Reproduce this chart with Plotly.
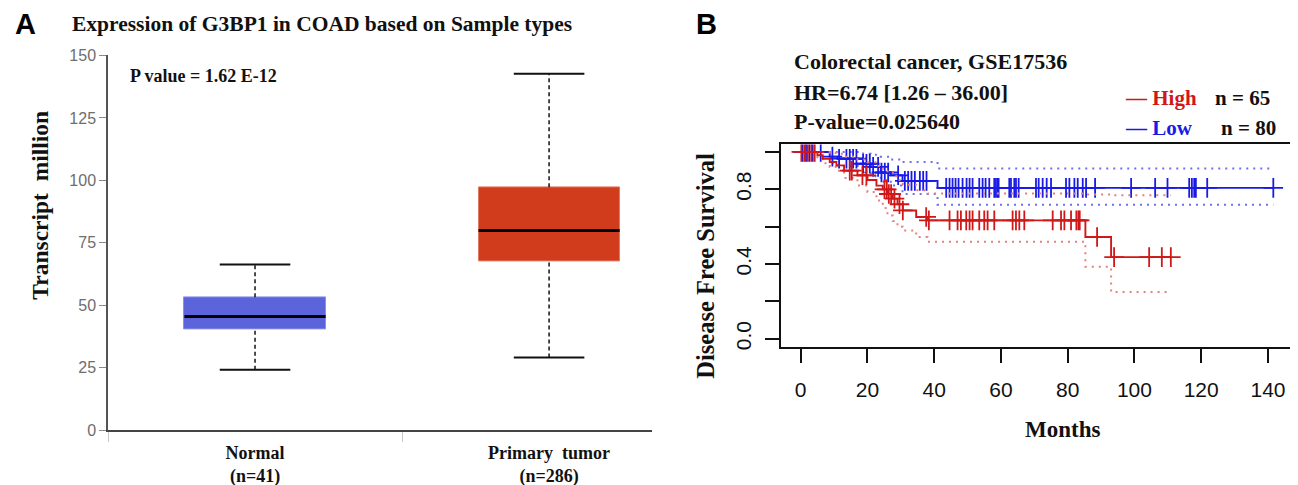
import plotly.graph_objects as go

W, H = 1298, 485

# ---------------- Panel A data ----------------
groups = ["Normal", "Primary tumor"]
group_labels = ["<b>Normal</b><br><b>(n=41)</b>", "<b>Primary  tumor</b><br><b>(n=286)</b>"]
lower_whisker = [24.3, 29.2]
q1 = [40.4, 67.6]
median = [45.6, 80.0]
q3 = [53.3, 97.3]
upper_whisker = [66.4, 142.7]
box_colors = ["#5C64DC", "#D13D1C"]
box_edge = ["#8A90E6", "#E07A62"]
a_ticks = [0, 25, 50, 75, 100, 125, 150]

# ---------------- Panel B data ----------------
high_t = [0, 5, 6.6, 8.7, 10.7, 13, 17, 20, 22.7, 24.6, 26, 27.6, 29, 30.6, 34.6, 38, 85.3, 93]
high_s = [1.0, 0.982, 0.964, 0.946, 0.928, 0.90, 0.875, 0.85, 0.82, 0.80, 0.775, 0.75, 0.72, 0.687, 0.652, 0.634, 0.545, 0.437]
high_up = [1.0, 1.0, 1.0, 0.995, 0.99, 0.975, 0.96, 0.945, 0.925, 0.91, 0.89, 0.87, 0.85, 0.825, 0.795, 0.777, 0.772, 0.768]
high_lo = [1.0, 0.96, 0.94, 0.92, 0.90, 0.86, 0.82, 0.786, 0.74, 0.70, 0.66, 0.63, 0.60, 0.58, 0.545, 0.52, 0.385, 0.25]
high_end = 110.9
high_cens = [0.2, 1.2, 2.1, 3.2, 4.2, 14.7, 15.3, 18.5, 19.7, 25.1, 25.8, 26.4, 27.1, 28.1,
             29.6, 30.6, 37.6, 38.4, 44.6, 47, 48, 49.6, 50.6, 51.5, 53.5, 55, 56, 58, 63.5,
             64.5, 65.5, 67, 75.5, 78, 79, 81, 82.6, 83.2, 83.6, 88.8, 93.9, 104.4, 108.2, 110.9]

low_t = [0, 8.7, 11, 18.7, 21, 24, 27, 30.5, 41]
low_s = [1.0, 0.975, 0.964, 0.937, 0.92, 0.89, 0.875, 0.845, 0.808]
low_up = [1.0, 1.0, 1.0, 0.99, 0.985, 0.975, 0.96, 0.946, 0.912]
low_lo = [1.0, 0.94, 0.925, 0.89, 0.87, 0.84, 0.82, 0.775, 0.718]
low_end = 141.6
low_cens = [0.6, 1.6, 2.6, 3.6, 6, 9.5, 11.5, 13.7, 14.7, 15.7, 16.7, 18.7, 19.7, 20.7, 21.7,
            23.2, 24.2, 25.2, 26.2, 29.2, 31.2, 32.2, 33.2, 34.2, 35.7, 36.7, 37.7, 43.6, 44.6,
            45.5, 46.4, 47.3, 48.5, 49.7, 50.6, 51.5, 53.5, 54.5, 55.4, 56.5, 58, 58.5, 59, 59.3,
            62.5, 63, 64, 64.5, 65.3, 70.5, 71.3, 72.5, 73.7, 75, 79.5, 80.5, 82, 83, 84.5, 85.5,
            88.2, 99, 106.2, 109.9, 116.4, 117.2, 117.9, 118.4, 121.8, 141.6]

b_xticks = [0, 20, 40, 60, 80, 100, 120, 140]
b_yticks = [0.0, 0.2, 0.4, 0.6, 0.8, 1.0]
b_yticktext = ["0.0", "", "0.4", "", "0.8", ""]

RED = "#D01818"
BLUE = "#1A1AE6"
RED_CI = "#E48080"
BLUE_CI = "#6F6FF0"

SERIF = "Liberation Serif"
SANS = "Liberation Sans"

# screen -> figure compensation (page offset / scale observed in render)
OX, OY, SY = 8.0, 17.3, 0.965


def px(x):
    return (x - OX) / W


def py(y):
    return 1 - ((y - OY) / SY) / H


def step_at(times, vals, t):
    v = vals[0]
    for ti, vi in zip(times, vals):
        if ti <= t:
            v = vi
    return v


fig = go.Figure()

# ---------- Panel A: boxes ----------
cap_half = 0.12
for i, g in enumerate(groups):
    fig.add_trace(go.Scatter(x=[i, i], y=[q3[i], upper_whisker[i]], mode="lines",
                             line=dict(color="#111", width=1.5, dash="4px,3px"),
                             xaxis="x", yaxis="y", showlegend=False, hoverinfo="skip"))
    fig.add_trace(go.Scatter(x=[i, i], y=[lower_whisker[i], q1[i]], mode="lines",
                             line=dict(color="#111", width=1.5, dash="4px,3px"),
                             xaxis="x", yaxis="y", showlegend=False, hoverinfo="skip"))
    for yv in (upper_whisker[i], lower_whisker[i]):
        fig.add_trace(go.Scatter(x=[i - cap_half, i + cap_half], y=[yv, yv], mode="lines",
                                 line=dict(color="#111", width=2),
                                 xaxis="x", yaxis="y", showlegend=False, hoverinfo="skip"))
    fig.add_trace(go.Bar(x=[i], y=[q3[i] - q1[i]], base=[q1[i]], width=0.48,
                         marker=dict(color=box_colors[i], line=dict(color=box_edge[i], width=1)),
                         xaxis="x", yaxis="y", showlegend=False, hoverinfo="skip"))
    fig.add_trace(go.Scatter(x=[i - 0.24, i + 0.24], y=[median[i], median[i]], mode="lines",
                             line=dict(color="#000", width=3),
                             xaxis="x", yaxis="y", showlegend=False, hoverinfo="skip"))


# ---------- Panel B: KM curves ----------
def add_km(times, surv, up, lo, end, cens, color, ci_color):
    for vals, c, dash, w in ((up, ci_color, "2px,5px", 2), (lo, ci_color, "2px,5px", 2),
                             (surv, color, "solid", 1.9)):
        fig.add_trace(go.Scatter(x=list(times) + [end], y=list(vals) + [vals[-1]], mode="lines",
                                 line=dict(color=c, width=w, dash=dash, shape="hv"),
                                 xaxis="x2", yaxis="y2", showlegend=False, hoverinfo="skip"))
    fig.add_trace(go.Scatter(x=cens, y=[step_at(times, surv, t) for t in cens], mode="markers",
                             marker=dict(symbol="cross-thin-open", size=14, color=color,
                                         line=dict(color=color, width=1.8)),
                             xaxis="x2", yaxis="y2", showlegend=False, hoverinfo="skip"))


add_km(low_t, low_s, low_up, low_lo, low_end, low_cens, BLUE, BLUE_CI)
add_km(high_t, high_s, high_up, high_lo, high_end, high_cens, RED, RED_CI)

annotations = [
    dict(text="<b>A</b>", x=px(13), y=py(25), xanchor="left", yanchor="middle",
         font=dict(family=SANS, size=29, color="#000")),
    dict(text="<b>B</b>", x=px(694), y=py(25), xanchor="left", yanchor="middle",
         font=dict(family=SANS, size=29, color="#000")),
    dict(text="<b>Expression of G3BP1 in COAD based on Sample types</b>", x=px(70), y=py(25),
         xanchor="left", yanchor="middle", font=dict(family=SERIF, size=21.5, color="#111")),
    dict(text="<b>P value = 1.62 E-12</b>", x=px(128), y=py(77), xanchor="left", yanchor="middle",
         font=dict(family=SERIF, size=18, color="#111")),
    dict(text="<b>Transcript  million</b>", x=px(40), y=py(207), xanchor="center", yanchor="middle",
         textangle=-90, font=dict(family=SERIF, size=23.5, color="#111")),
    dict(text="<b>Colorectal cancer, GSE17536</b>", x=px(792), y=py(63), xanchor="left",
         yanchor="middle", font=dict(family=SERIF, size=22, color="#111")),
    dict(text="<b>HR=6.74 [1.26 – 36.00]</b>", x=px(792), y=py(94), xanchor="left",
         yanchor="middle", font=dict(family=SERIF, size=22, color="#111")),
    dict(text="<b>P-value=0.025640</b>", x=px(792), y=py(123), xanchor="left",
         yanchor="middle", font=dict(family=SERIF, size=22, color="#111")),
    dict(text="<b>— High</b>", x=px(1123), y=py(99), xanchor="left", yanchor="middle",
         font=dict(family=SERIF, size=21, color=RED)),
    dict(text="<b>n = 65</b>", x=px(1213), y=py(99), xanchor="left", yanchor="middle",
         font=dict(family=SERIF, size=21, color="#111")),
    dict(text="<b>— Low</b>", x=px(1123), y=py(129), xanchor="left", yanchor="middle",
         font=dict(family=SERIF, size=21, color=BLUE)),
    dict(text="<b>n = 80</b>", x=px(1219), y=py(129), xanchor="left", yanchor="middle",
         font=dict(family=SERIF, size=21, color="#111")),
    dict(text="<b>Disease Free Survival</b>", x=px(706), y=py(267), xanchor="center",
         yanchor="middle", textangle=-90, font=dict(family=SERIF, size=24.5, color="#111")),
    dict(text="<b>Months</b>", x=px(1062), y=py(431), xanchor="center", yanchor="middle",
         font=dict(family=SERIF, size=23, color="#111")),
]
for a in annotations:
    a.update(xref="paper", yref="paper", showarrow=False)

fig.update_layout(
    width=W, height=H,
    margin=dict(l=0, r=0, t=0, b=0),
    paper_bgcolor="white", plot_bgcolor="white",
    annotations=annotations,
    bargap=0,
    xaxis=dict(domain=[px(108), px(652)], range=[-0.5, 1.35], anchor="y",
               tickvals=[0, 1], ticktext=group_labels, ticks="",
               tickfont=dict(family=SERIF, size=18, color="#111"), ticklabelstandoff=5,
               showline=True, linecolor="#444", linewidth=1.5, showgrid=False, zeroline=False,
               minor=dict(tickvals=[-0.5, 0.5], ticks="outside", ticklen=10, tickcolor="#C8C8C8",
                          tickwidth=1)),
    yaxis=dict(domain=[py(431.7), py(56.7)], range=[0, 150], anchor="x",
               tickvals=a_ticks, ticks="outside", ticklen=7, tickcolor="#888", tickwidth=1,
               tickfont=dict(family=SANS, size=16, color="#6E6E6E"),
               showline=True, linecolor="#555", linewidth=1.5, showgrid=False, zeroline=False),
    xaxis2=dict(domain=[px(781), px(1293)], range=[-5.9, 147.5], anchor="y2",
                tickvals=b_xticks, ticks="outside", ticklen=14, tickwidth=1.6, tickcolor="#111",
                tickfont=dict(family=SANS, size=21, color="#111"), ticklabelstandoff=9,
                showline=True, mirror=True, linecolor="#111", linewidth=1.6,
                showgrid=False, zeroline=False),
    yaxis2=dict(domain=[py(348.5), py(145.8)], range=[-0.045, 1.04], anchor="x2",
                tickvals=b_yticks, ticktext=b_yticktext, tickangle=-90,
                ticks="outside", ticklen=14, tickwidth=1.6, tickcolor="#111",
                tickfont=dict(family=SANS, size=21, color="#111"), ticklabelstandoff=6,
                showline=True, mirror=True, linecolor="#111", linewidth=1.6,
                showgrid=False, zeroline=False),
)

fig.write_html("out.html")
